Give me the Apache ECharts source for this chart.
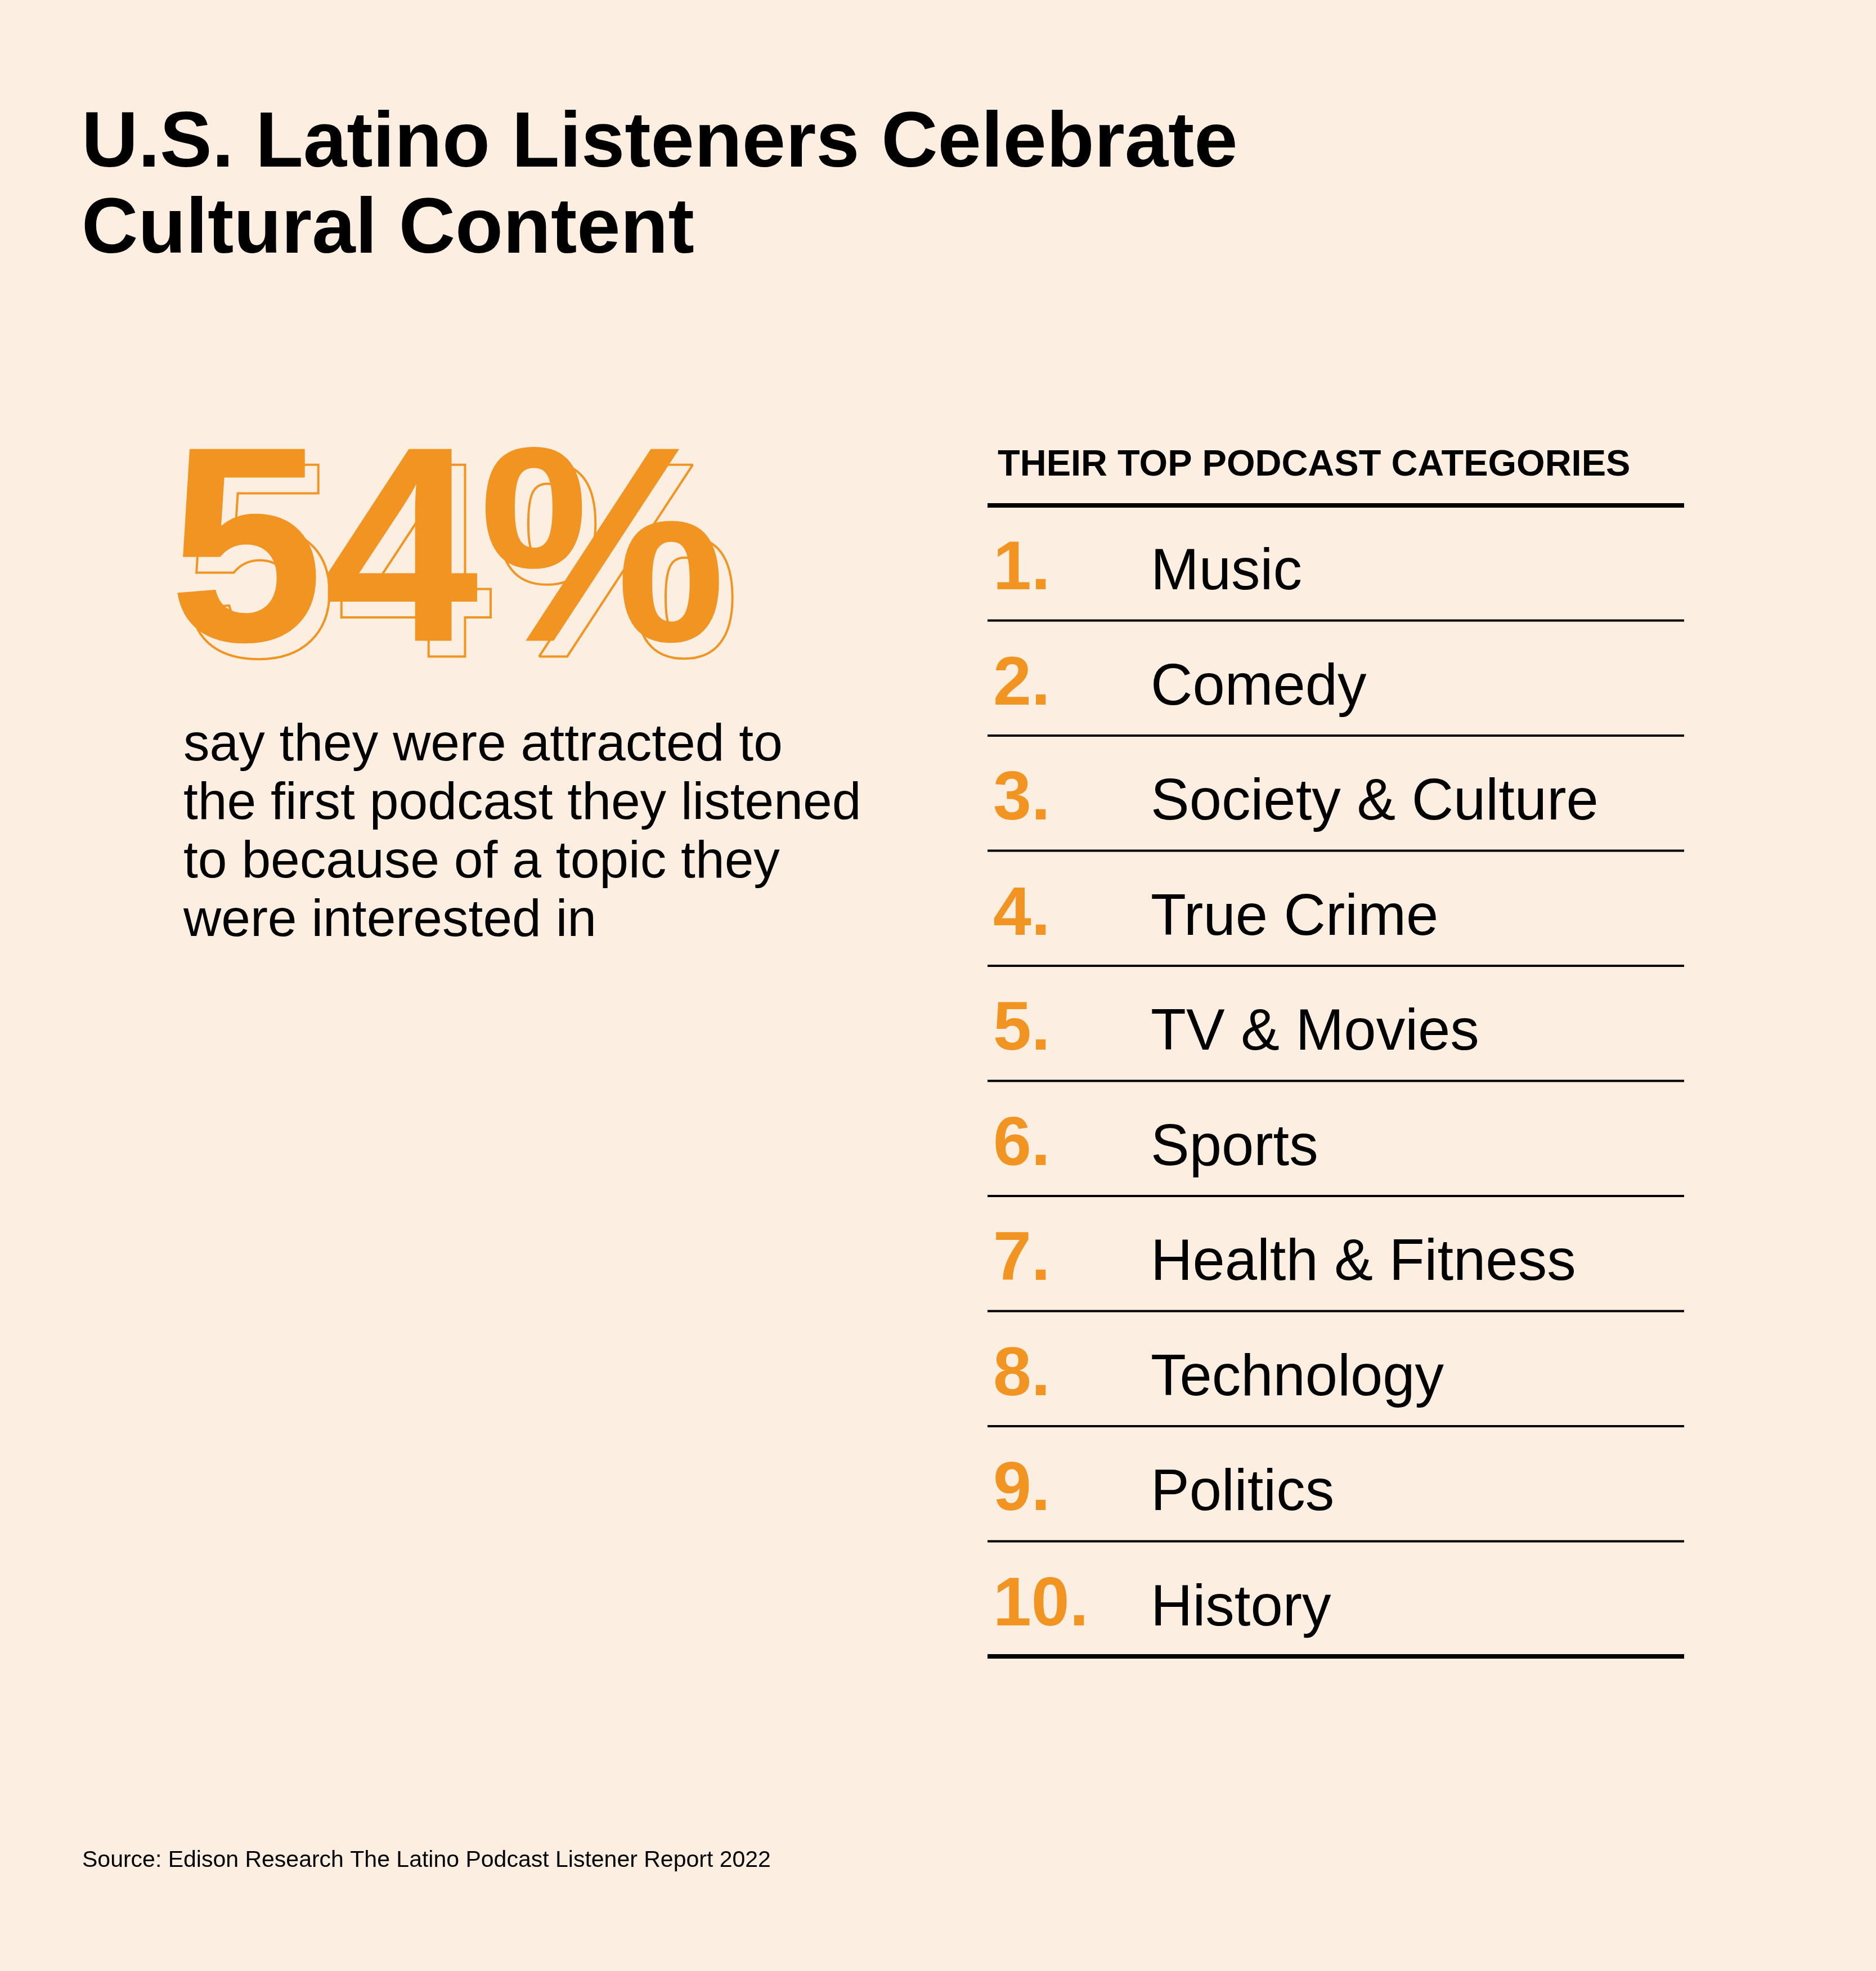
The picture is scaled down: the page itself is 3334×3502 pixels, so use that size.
<!DOCTYPE html>
<html>
<head>
<meta charset="utf-8">
<script src="https://cdn.jsdelivr.net/npm/echarts@6/dist/echarts.min.js"></script>
<style>
html,body{margin:0;padding:0;background:#FCEEE0;}
#chart{width:3334px;height:3502px;}
</style>
</head>
<body>
<div id="chart"></div>
<script>
// ---- data ----
const titleLines = ["U.S. Latino Listeners Celebrate", "Cultural Content"];
const statValue = "54%";
const statLines = ["say they were attracted to", "the first podcast they listened", "to because of a topic they", "were interested in"];
const listHeader = "THEIR TOP PODCAST CATEGORIES";
const ranks = ["1.", "2.", "3.", "4.", "5.", "6.", "7.", "8.", "9.", "10."];
const categories = ["Music", "Comedy", "Society & Culture", "True Crime", "TV & Movies", "Sports", "Health & Fitness", "Technology", "Politics", "History"];
const sourceText = "Source: Edison Research The Latino Podcast Listener Report 2022";

// ---- style ----
const BG = "#FCEEE0";
const ORANGE = "#F29422";
const FONT = '"Liberation Sans", Arial, sans-serif';
const MID = 0.285; // baseline offset from text middle, in em

function txt(text, x, baseline, size, weight, color, extra) {
  const s = Object.assign({
    text: text, x: 0, y: 0,
    font: weight + ' ' + size + 'px ' + FONT,
    fill: color,
    align: 'left', verticalAlign: 'middle',
    textAlign: 'left', textVerticalAlign: 'middle'
  }, extra || {});
  return { type: 'text', x: x, y: baseline - MID * size, style: s, silent: true };
}

const els = [];
// title
titleLines.forEach((t, i) => els.push(txt(t, 145, 297 + i * 153, 139, 'bold', '#000')));

// big stat: outline behind, filled on top
els.push(txt(statValue, 324, 1171, 495, 'bold', 'none', { stroke: ORANGE, lineWidth: 4 }));
els.push(txt(statValue, 300, 1143, 495, 'bold', ORANGE));

// stat description
statLines.forEach((t, i) => els.push(txt(t, 326, 1352 + i * 104, 93, 'normal', '#000')));

// list header
els.push(txt(listHeader, 1773, 846, 65, 'bold', '#000'));

// list rules and rows
const listX0 = 1755, listX1 = 2993, listTop = 898, rowStep = 204.5;
for (let i = 0; i <= categories.length; i++) {
  const yy = listTop + i * rowStep;
  const thick = (i === 0 || i === categories.length) ? 8 : 4;
  els.push({ type: 'rect', shape: { x: listX0, y: yy - thick / 2, width: listX1 - listX0, height: thick }, style: { fill: '#000' }, silent: true });
}
categories.forEach((c, i) => {
  const center = listTop + (i + 0.5) * rowStep;
  const base = center + 48;
  els.push(txt(ranks[i], 1765, base, 122, 'bold', ORANGE));
  els.push(txt(c, 2045, base, 103, 'normal', '#000'));
});

// source
els.push(txt(sourceText, 146, 3317, 41, 'normal', '#000'));

const chart = echarts.init(document.getElementById('chart'), null, { renderer: 'canvas' });
chart.setOption({
  backgroundColor: BG,
  animation: false,
  graphic: { elements: els }
});
</script>
</body>
</html>
